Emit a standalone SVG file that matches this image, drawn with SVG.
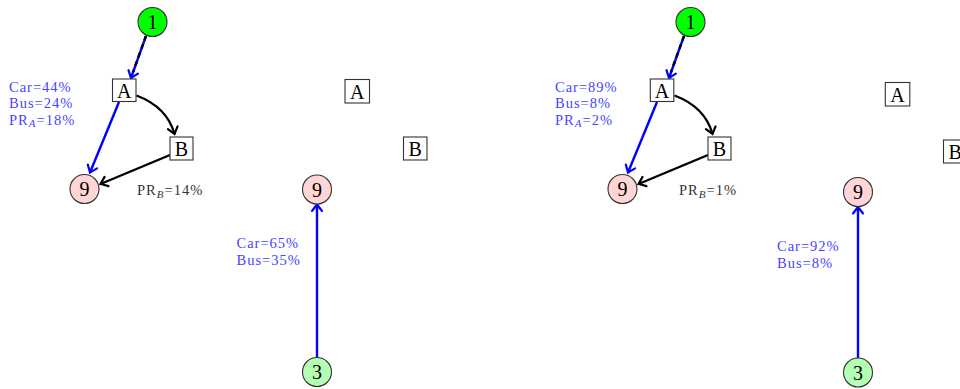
<svg xmlns="http://www.w3.org/2000/svg" width="960" height="389" viewBox="0 0 960 389">
<style>
  text { font-family: "Liberation Serif", "Times New Roman", serif; }
  .nl { font-size: 20px; text-anchor: middle; fill: #000; }
  .box { fill: #fff; stroke: #333; stroke-width: 1.1; }
  .c1 { fill: #00ff00; stroke: #333; stroke-width: 1.1; }
  .c9 { fill: #ffd5d5; stroke: #333; stroke-width: 1.1; }
  .c3 { fill: #b3ffb3; stroke: #333; stroke-width: 1.1; }
  .lb { font-size: 14.5px; letter-spacing: 1px; fill: #4545ff; }
  .lk { font-size: 14.5px; letter-spacing: 1px; fill: #333; }
  .eb { stroke: #0000ff; stroke-width: 2.4; fill: none; }
  .ek { stroke: #000; stroke-width: 2.4; fill: none; }
  .ed { stroke: #000; stroke-width: 2.4; fill: none; stroke-dasharray: 4.5 4.5; }
</style>
<defs>
  <marker id="ab" viewBox="-10 -7 12 14" refX="0" refY="0" markerWidth="12" markerHeight="14" markerUnits="userSpaceOnUse" orient="auto" overflow="visible">
    <path d="M-6.5,-5 Q-2,-1.5 0,0 Q-2,1.5 -6.5,5" fill="none" stroke="#0000ff" stroke-width="2.2" stroke-linecap="round"/>
  </marker>
  <marker id="ak" viewBox="-10 -7 12 14" refX="0" refY="0" markerWidth="12" markerHeight="14" markerUnits="userSpaceOnUse" orient="auto" overflow="visible">
    <path d="M-6.5,-5 Q-2,-1.5 0,0 Q-2,1.5 -6.5,5" fill="none" stroke="#000" stroke-width="2.2" stroke-linecap="round"/>
  </marker>
</defs>

<g id="connectors">
  <!-- panel 1 -->
  <line class="eb" x1="146" y1="36" x2="131" y2="78" marker-end="url(#ab)"/>
  <line class="ed" x1="146" y1="36" x2="133" y2="72"/>
  <line class="eb" x1="119" y1="102" x2="90" y2="172.5" marker-end="url(#ab)"/>
  <path class="ek" d="M136.5,95.5 Q167,107 174.5,134" marker-end="url(#ak)"/>
  <line class="ek" x1="170" y1="155" x2="100.5" y2="184" marker-end="url(#ak)"/>
  <line class="eb" x1="317" y1="357.5" x2="317" y2="204.5" marker-end="url(#ab)"/>
  <!-- panel 2 -->
  <line class="eb" x1="684" y1="36" x2="669" y2="78" marker-end="url(#ab)"/>
  <line class="ed" x1="684" y1="36" x2="671" y2="72"/>
  <line class="eb" x1="657" y1="102" x2="628" y2="172.5" marker-end="url(#ab)"/>
  <path class="ek" d="M674.5,95.5 Q705,107 712.5,134" marker-end="url(#ak)"/>
  <line class="ek" x1="708" y1="155" x2="638.5" y2="184" marker-end="url(#ak)"/>
  <line class="eb" x1="858" y1="358" x2="858" y2="207" marker-end="url(#ab)"/>
</g>

<g id="p1-n1"><circle class="c1" cx="152.5" cy="22" r="14.5"/><text class="nl" x="152.5" y="29">1</text></g>
<g id="p1-A"><rect class="box" x="112.5" y="79" width="23.5" height="22.5"/><text class="nl" x="124.3" y="97.5">A</text></g>
<g id="p1-B"><rect class="box" x="170" y="137" width="23" height="23"/><text class="nl" x="181.5" y="155.5">B</text></g>
<g id="p1-n9"><circle class="c9" cx="84.5" cy="189" r="14.5"/><text class="nl" x="84.5" y="196">9</text></g>
<g id="p1b-A"><rect class="box" x="345" y="79.5" width="24.5" height="23.5"/><text class="nl" x="357.3" y="98.5">A</text></g>
<g id="p1b-B"><rect class="box" x="403.5" y="137" width="23.5" height="23"/><text class="nl" x="415.2" y="155.5">B</text></g>
<g id="p1b-n9"><circle class="c9" cx="317" cy="189.5" r="14.5"/><text class="nl" x="317" y="196.5">9</text></g>
<g id="p1b-n3"><circle class="c3" cx="317" cy="372" r="14.5"/><text class="nl" x="317" y="379">3</text></g>

<g id="p2-n1"><circle class="c1" cx="690.5" cy="22" r="14.5"/><text class="nl" x="690.5" y="29">1</text></g>
<g id="p2-A"><rect class="box" x="650.3" y="79" width="23.5" height="22.5"/><text class="nl" x="662" y="97.5">A</text></g>
<g id="p2-B"><rect class="box" x="708" y="137" width="23" height="23"/><text class="nl" x="719.5" y="155.5">B</text></g>
<g id="p2-n9"><circle class="c9" cx="622.5" cy="189" r="14.5"/><text class="nl" x="622.5" y="196">9</text></g>
<g id="p2b-A"><rect class="box" x="885.3" y="82.5" width="24.5" height="23.5"/><text class="nl" x="897.5" y="101.5">A</text></g>
<g id="p2b-B"><rect class="box" x="943.5" y="140" width="23.5" height="23"/><text class="nl" x="955.2" y="158.5">B</text></g>
<g id="p2b-n9"><circle class="c9" cx="858" cy="192" r="14.5"/><text class="nl" x="858" y="199">9</text></g>
<g id="p2b-n3"><circle class="c3" cx="858" cy="372.5" r="14.5"/><text class="nl" x="858" y="379.5">3</text></g>

<g id="labels">
  <text class="lb" x="9" y="91.5">Car=44%</text>
  <text class="lb" x="9" y="108">Bus=24%</text>
  <text class="lb" x="9" y="124.5">PR<tspan font-style="italic" font-size="11" dy="2.5">A</tspan><tspan dy="-2.5">=18%</tspan></text>
  <text class="lk" x="137" y="195">PR<tspan font-style="italic" font-size="11" dy="2.5">B</tspan><tspan dy="-2.5">=14%</tspan></text>
  <text class="lb" x="236.5" y="247.5">Car=65%</text>
  <text class="lb" x="236.5" y="264.5">Bus=35%</text>

  <text class="lb" x="555" y="91.5">Car=89%</text>
  <text class="lb" x="555" y="108">Bus=8%</text>
  <text class="lb" x="555" y="124.5">PR<tspan font-style="italic" font-size="11" dy="2.5">A</tspan><tspan dy="-2.5">=2%</tspan></text>
  <text class="lk" x="679" y="195">PR<tspan font-style="italic" font-size="11" dy="2.5">B</tspan><tspan dy="-2.5">=1%</tspan></text>
  <text class="lb" x="777" y="251">Car=92%</text>
  <text class="lb" x="777" y="268">Bus=8%</text>
</g>
</svg>
